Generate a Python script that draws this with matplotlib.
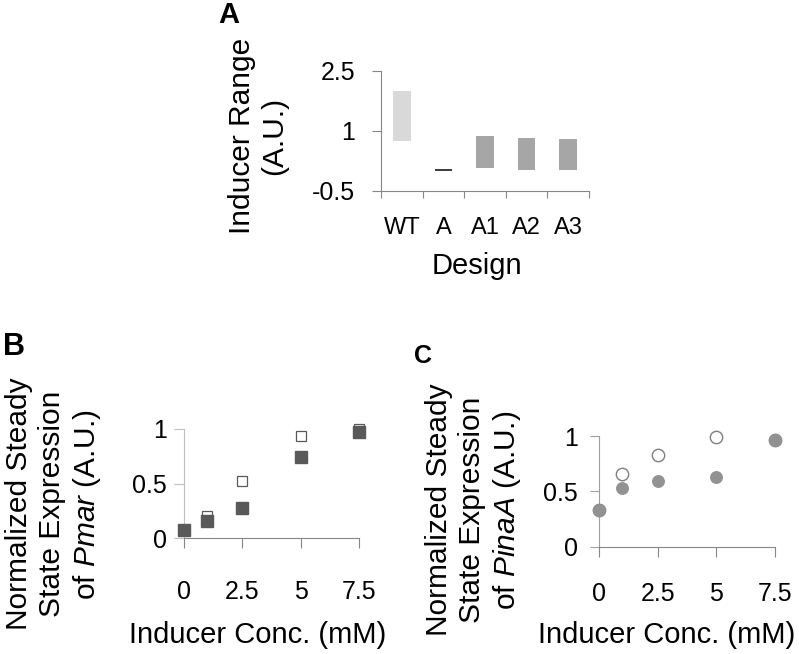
import matplotlib
matplotlib.use("Agg")  # render to file, no GUI
import matplotlib.pyplot as plt

# ---- data ----
designs = ["WT", "A", "A1", "A2", "A3"]
range_low = [0.75, 0.005, 0.075, 0.01, 0.01]
range_high = [2.0, 0.035, 0.87, 0.83, 0.80]
bar_colors = ["#d9d9d9", "#404040", "#a6a6a6", "#a6a6a6", "#a6a6a6"]

conc = [0, 1, 2.5, 5, 7.5]
conc_ticks = [0, 2.5, 5, 7.5]
conc_labels = ["0", "2.5", "5", "7.5"]

pmar_open = [0.08, 0.20, 0.52, 0.94, 1.00]
pmar_filled = [0.08, 0.155, 0.28, 0.74, 0.97]

pinaA_open = [0.33, 0.66, 0.83, 0.99, 0.965]
pinaA_filled = [0.33, 0.53, 0.59, 0.63, 0.965]

range_ticks = [-0.5, 1, 2.5]
range_labels = ["-0.5", "1", "2.5"]
expr_ticks = [0, 0.5, 1]
expr_labels = ["0", "0.5", "1"]

plt.rcParams["font.family"] = ["Liberation Sans", "DejaVu Sans"]
plt.rcParams["mathtext.fontset"] = "custom"
plt.rcParams["mathtext.rm"] = "Liberation Sans"
plt.rcParams["mathtext.it"] = "Liberation Sans:italic"

W, H = 799, 654
fig = plt.figure(figsize=(W / 100, H / 100), dpi=100)


def fx(x):
    return x / W


def fy(y):
    return 1 - y / H


AXIS_GRAY = "#868686"
TICK_SIZE = 18
LABEL_SIZE = 21.5


def style_axes(ax, ycolor=AXIS_GRAY):
    for side in ("top", "right"):
        ax.spines[side].set_visible(False)
    ax.spines["left"].set_color(ycolor)
    ax.spines["bottom"].set_color(AXIS_GRAY)
    ax.spines["left"].set_linewidth(0.8)
    ax.spines["bottom"].set_linewidth(0.8)
    ax.set_facecolor("none")


# ---- panel A: floating bars ----
axA = fig.add_axes([fx(381), fy(190.7), 208 / W, 120 / H])
style_axes(axA)
heights = [hi - lo for lo, hi in zip(range_low, range_high)]
axA.bar(range(len(designs)), heights, bottom=range_low, width=0.42,
        color=bar_colors, linewidth=0)
axA.set_xlim(-0.5, len(designs) - 0.5)
axA.set_ylim(-0.5, 2.5)
axA.set_yticks(range_ticks)
axA.set_yticklabels(range_labels)
axA.set_xticks(range(len(designs)))
axA.set_xticklabels(designs)
axA.set_xticks([i - 0.5 for i in range(len(designs) + 1)], minor=True)
axA.tick_params(axis="y", direction="out", length=6.5, width=0.8,
                color=AXIS_GRAY, pad=12, labelsize=TICK_SIZE)
axA.tick_params(axis="x", which="major", length=0, pad=19,
                labelsize=17)
axA.tick_params(axis="x", which="minor", direction="out", length=5,
                width=0.8, color=AXIS_GRAY)

fig.text(fx(258), fy(136), "Inducer Range\n(A.U.)", rotation=90,
         ha="center", va="center", fontsize=LABEL_SIZE, multialignment="center")
fig.text(fx(477), fy(274), "Design", ha="center", va="baseline",
         fontsize=21)
fig.text(fx(218), fy(23), "A", fontweight="bold", fontsize=21, va="baseline")

# ---- panel B: Pmar squares ----
axB = fig.add_axes([fx(183.7), fy(538.3), 175.6 / W, 109.3 / H])
style_axes(axB, ycolor="#bfbfbf")
axB.plot(conc, pmar_open, linestyle="none", marker="s", markersize=7.6,
         markerfacecolor="white", markeredgecolor="#595959",
         markeredgewidth=0.9, clip_on=False, zorder=3)
axB.plot(conc, pmar_filled, linestyle="none", marker="s", markersize=8.4,
         color="#595959", clip_on=False, zorder=4)
axB.set_xlim(0, 7.5)
axB.set_ylim(0, 1)
axB.set_xticks(conc_ticks)
axB.set_xticklabels(conc_labels)
axB.set_yticks(expr_ticks)
axB.set_yticklabels(expr_labels)
axB.tick_params(axis="x", direction="out", length=7.2, width=0.8,
                color=AXIS_GRAY, pad=23, labelsize=TICK_SIZE)
axB.tick_params(axis="y", direction="out", length=7.2, width=0.8,
                color="#bfbfbf", pad=5, labelsize=TICK_SIZE)

fig.text(fx(54), fy(504),
         "Normalized Steady\nState Expression\nof $\\mathit{Pmar}$ (A.U.)",
         rotation=90, ha="center", va="center", fontsize=LABEL_SIZE,
         multialignment="center")
fig.text(fx(258), fy(643), "Inducer Conc. (mM)", ha="center", va="baseline",
         fontsize=21)
fig.text(fx(3), fy(355), "B", fontweight="bold", fontsize=22, va="baseline")

# ---- panel C: PinaA circles ----
axC = fig.add_axes([fx(599), fy(546.7), 176 / W, 110.7 / H])
style_axes(axC, ycolor="#a0a0a0")
axC.plot(conc, pinaA_open, linestyle="none", marker="o", markersize=8.9,
         markerfacecolor="white", markeredgecolor="#7f7f7f",
         markeredgewidth=1.0, clip_on=False, zorder=3)
axC.plot(conc, pinaA_filled, linestyle="none", marker="o", markersize=8.3,
         color="#929292", clip_on=False, zorder=4)
axC.set_xlim(0, 7.5)
axC.set_ylim(0, 1)
axC.set_xticks(conc_ticks)
axC.set_xticklabels(conc_labels)
axC.set_yticks(expr_ticks)
axC.set_yticklabels(expr_labels)
axC.tick_params(axis="x", direction="out", length=7.2, width=0.8,
                color=AXIS_GRAY, pad=18, labelsize=TICK_SIZE)
axC.tick_params(axis="y", direction="out", length=6.5, width=0.8,
                color="#a0a0a0", pad=8.5, labelsize=TICK_SIZE)

fig.text(fx(474), fy(510),
         "Normalized Steady\nState Expression\nof $\\mathit{PinaA}$ (A.U.)",
         rotation=90, ha="center", va="center", fontsize=LABEL_SIZE,
         multialignment="center")
fig.text(fx(667), fy(643), "Inducer Conc. (mM)", ha="center", va="baseline",
         fontsize=21)
fig.text(fx(414), fy(363), "C", fontweight="bold", fontsize=18, va="baseline")

fig.savefig("out.png", dpi=100, facecolor="white")
